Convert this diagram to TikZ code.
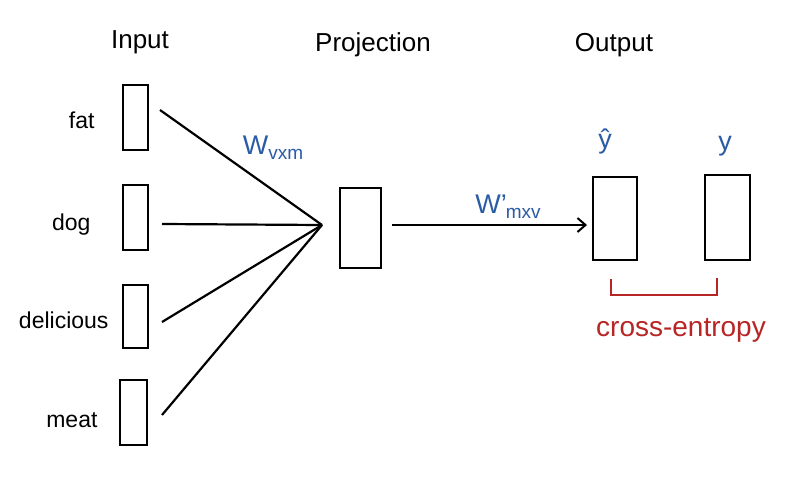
\documentclass[tikz,border=0pt]{standalone}
\usepackage{fontspec}
\setmainfont{Liberation Sans}
\usetikzlibrary{arrows.meta}
\definecolor{penblue}{HTML}{2A5CA6}
\definecolor{penred}{HTML}{B82525}
\begin{document}
\begin{tikzpicture}[x=1pt,y=-1pt,
  inbox/.style={draw,line width=2.2pt,inner sep=0pt},
  word/.style={font=\fontsize{23}{26}\selectfont},
  head/.style={font=\fontsize{26}{30}\selectfont},
  bluelbl/.style={text=penblue,font=\fontsize{27}{30}\selectfont},
  redlbl/.style={text=penred,font=\fontsize{28}{32}\selectfont},
  conn/.style={line width=2.2pt}]
\useasboundingbox[fill=white] (0,0) rectangle (801,485);
% headings
\node[head] (hin) at (140,42) {Input};
\node[head] (hproj) at (373,45) {Projection};
\node[head] (hout) at (614,45) {Output};
% input boxes
\node[inbox,minimum width=25pt,minimum height=65pt] (b1) at (135.5,117.5) {};
\node[inbox,minimum width=25pt,minimum height=65pt] (b2) at (135.5,217.5) {};
\node[inbox,minimum width=25pt,minimum height=63pt] (b3) at (135.5,316.5) {};
\node[inbox,minimum width=27pt,minimum height=65pt] (b4) at (133.5,412.5) {};
% words
\node[word,anchor=east] (wfat) at (98,120) {fat};
\node[word,anchor=east] (wdog) at (94,225) {dog};
\node[word,anchor=east] (wdel) at (112,320) {delicious};
\node[word,anchor=east] (wmeat) at (101,420) {meat};
% projection box
\node[inbox,minimum width=41pt,minimum height=80pt] (proj) at (360.5,228) {};
\coordinate (hub) at (322,225);
\coordinate (s1) at (160,110);
\coordinate (s2) at (162,224);
\coordinate (s3) at (162,322);
\coordinate (s4) at (162,415);
\draw[conn] (s1) -- (hub);
\draw[conn] (s2) -- (hub);
\draw[conn] (s3) -- (hub);
\draw[conn] (s4) -- (hub);
% output boxes
\node[inbox,minimum width=44pt,minimum height=83pt] (yhat) at (615,218.5) {};
\node[inbox,minimum width=45pt,minimum height=85pt] (ytrue) at (727.5,217.5) {};
\coordinate (a0) at (392,225);
\coordinate (a1) at (587,225);
\draw[conn,-{Straight Barb[length=8pt,width=14pt,line width=2pt]}] (a0) -- (a1);
% labels
\node[bluelbl] (lw) at (273,148) {W\raisebox{-5pt}{\fontsize{19}{20}\selectfont vxm}};
\node[bluelbl] (lw2) at (508,207) {W'\kern-1pt\raisebox{-5pt}{\fontsize{19}{20}\selectfont mxv}};
\node[bluelbl] (lyhat) at (605,141) {ŷ};
\node[bluelbl] (ly) at (725,146) {y};
% cross-entropy bracket
\coordinate (c1) at (611,279);
\coordinate (c2) at (611,295);
\coordinate (c3) at (717,295);
\coordinate (c4) at (717,278);
\draw[penred,line width=2.2pt] (c1) -- (c2) -- (c3) -- (c4);
\node[redlbl] (lce) at (681,330) {cross-entropy};
\end{tikzpicture}
\end{document}
